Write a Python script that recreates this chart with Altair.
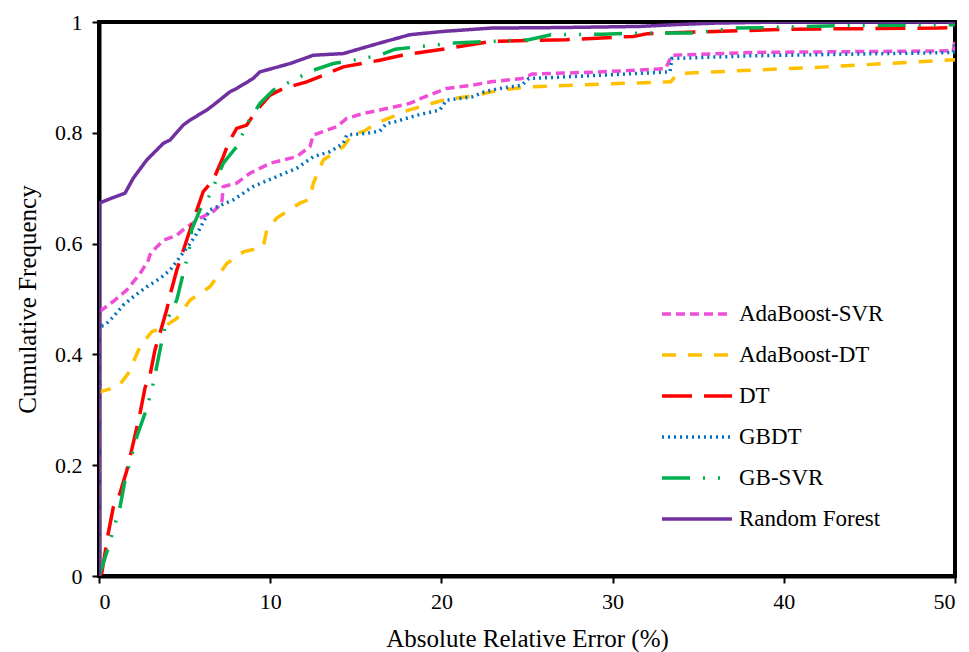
import altair as alt
import pandas as pd

# ---- data ----
series_names = ["AdaBoost-SVR", "AdaBoost-DT", "DT", "GBDT", "GB-SVR", "Random Forest"]
colors = ["#EE4FD6", "#FFC000", "#FF0000", "#0070C0", "#00B050", "#7030A0"]
dashes = [[9, 5], [14, 12], [30, 12], [2, 4], [28, 13, 2, 13, 2, 13], [1, 0]]

ada_svr_x = [0, 0, 0.16, 0.93, 1.62, 2.4, 2.88, 2.98, 3.37, 3.76, 4.54, 4.92, 5.9, 6.68, 7.17, 7.26, 8.04, 8.82, 9.99,
             11.55, 12.32, 12.52, 13.88, 14.47, 15.44, 16.4, 18.15, 18.8, 20.3, 21.8, 22.9, 24.7, 25.3, 29.4, 33.1,
             33.46, 38.1, 49.9, 50]
ada_svr_y = [0, 0.48, 0.48, 0.498, 0.516, 0.546, 0.57, 0.58, 0.594, 0.606, 0.615, 0.625, 0.646, 0.658, 0.673, 0.703,
             0.709, 0.727, 0.745, 0.757, 0.775, 0.796, 0.811, 0.826, 0.835, 0.841, 0.853, 0.862, 0.88, 0.886, 0.892,
             0.898, 0.906, 0.91, 0.916, 0.94, 0.945, 0.948, 0.97]

ada_dt_x = [0, 0, 0.45, 1.13, 1.71, 2.4, 3.08, 3.66, 4.54, 5.32, 6.48, 7.46, 8.43, 9.6, 9.8, 10.38, 11.74, 12.3, 12.52,
            13.1, 14.27, 14.85, 15.44, 16.2, 18.0, 20.1, 22.06, 23.4, 25.1, 29.4, 33.4, 33.8, 38.1, 42.5, 50]
ada_dt_y = [0, 0.332, 0.336, 0.342, 0.366, 0.414, 0.441, 0.447, 0.465, 0.498, 0.522, 0.564, 0.585, 0.594, 0.625, 0.646,
            0.673, 0.68, 0.709, 0.751, 0.775, 0.799, 0.802, 0.817, 0.84, 0.859, 0.868, 0.877, 0.883, 0.888, 0.892,
            0.907, 0.913, 0.919, 0.932]

dt_x = [0, 0.16, 0.54, 0.84, 1.23, 1.62, 2.0, 2.4, 2.69, 2.98, 3.27, 3.56, 3.95, 4.15, 4.54, 4.83, 5.32, 6.09, 6.68,
        7.26, 7.55, 8.04, 8.63, 9.21, 9.99, 10.77, 12.13, 13.1, 14.27, 16.4, 17.7, 20.3, 22.9, 27.3, 31.2, 32.05,
        35.96, 40.3, 49, 50]
dt_y = [0, 0.005, 0.077, 0.125, 0.15, 0.19, 0.24, 0.294, 0.34, 0.363, 0.408, 0.438, 0.48, 0.507, 0.552, 0.579, 0.625,
        0.694, 0.715, 0.757, 0.781, 0.808, 0.814, 0.841, 0.868, 0.88, 0.892, 0.904, 0.919, 0.931, 0.94, 0.952, 0.965,
        0.968, 0.974, 0.979, 0.983, 0.987, 0.989, 0.99]

gbdt_x = [0, 0, 0.35, 0.84, 1.42, 2.0, 2.79, 3.56, 4.15, 4.73, 5.32, 5.85, 6.48, 7.85, 9.0, 10.38, 11.55, 12.52, 13.5,
          14.27, 14.47, 15.64, 16.4, 16.8, 17.3, 18.6, 19.9, 20.3, 21.8, 22.5, 23.4, 24.7, 25.1, 29.4, 33.35, 33.46,
          38.1, 49.9, 50]
gbdt_y = [0, 0.45, 0.453, 0.468, 0.489, 0.504, 0.522, 0.537, 0.552, 0.576, 0.6, 0.625, 0.661, 0.679, 0.703, 0.721,
          0.736, 0.757, 0.766, 0.781, 0.796, 0.799, 0.803, 0.817, 0.82, 0.832, 0.841, 0.859, 0.865, 0.874, 0.88, 0.886,
          0.898, 0.904, 0.91, 0.934, 0.939, 0.945, 0.96]

gbsvr_x = [0, 0.25, 0.53, 1.23, 1.52, 2.2, 2.69, 2.98, 3.17, 3.37, 3.66, 3.86, 4.15, 4.54, 4.92, 5.12, 5.32, 5.41, 5.9,
           6.48, 7.26, 8.04, 8.72, 9.4, 10.18, 10.96, 12.52, 13.69, 14.85, 16.4, 17.3, 20.75, 22.06, 25.1, 26.4, 29.4,
           31.6, 34.9, 37.0, 39.2, 42.5, 50]
gbsvr_y = [0, 0.023, 0.05, 0.125, 0.173, 0.251, 0.294, 0.324, 0.348, 0.378, 0.423, 0.45, 0.474, 0.498, 0.546, 0.57,
           0.597, 0.625, 0.661, 0.688, 0.745, 0.775, 0.82, 0.853, 0.877, 0.889, 0.913, 0.925, 0.931, 0.94, 0.951, 0.962,
           0.964, 0.968, 0.977, 0.978, 0.98, 0.98, 0.989, 0.99, 0.993, 0.995]

rf_x = [0, 0, 0.74, 1.52, 2.0, 2.79, 3.76, 4.15, 4.92, 5.32, 6.29, 6.68, 7.65, 8.04, 9.0, 9.4, 11.16, 12.52, 14.27,
        16.4, 18.15, 20.1, 22.9, 27, 31.6, 33.5, 36, 40, 50]
rf_y = [0, 0.673, 0.682, 0.691, 0.718, 0.751, 0.781, 0.787, 0.814, 0.823, 0.841, 0.85, 0.874, 0.88, 0.898, 0.91, 0.925,
        0.94, 0.943, 0.962, 0.977, 0.983, 0.989, 0.99, 0.992, 0.995, 0.998, 1.0, 1.0]

x_ticks = [0, 10, 20, 30, 40, 50]
y_ticks = [0, 0.2, 0.4, 0.6, 0.8, 1]

# ---- table ----
all_series = [
    ("AdaBoost-SVR", ada_svr_x, ada_svr_y),
    ("AdaBoost-DT", ada_dt_x, ada_dt_y),
    ("DT", dt_x, dt_y),
    ("GBDT", gbdt_x, gbdt_y),
    ("GB-SVR", gbsvr_x, gbsvr_y),
    ("Random Forest", rf_x, rf_y),
]
rows = []
for name, xs, ys in all_series:
    assert len(xs) == len(ys), name
    for i, (a, b) in enumerate(zip(xs, ys)):
        rows.append({"series": name, "x": a, "y": b, "i": i})
df = pd.DataFrame(rows)

FONT = "Liberation Serif"

legend = alt.Legend(
    title=None, orient="none", legendX=561, legendY=280,
    symbolType="stroke", symbolSize=4900, symbolStrokeWidth=3.5,
    clipHeight=24, rowPadding=17, labelOffset=5,
    labelFont=FONT, labelFontSize=23, labelColor="black",
)

chart = alt.Chart(df).mark_line(strokeWidth=3.5, clip=True).encode(
    x=alt.X("x:Q", scale=alt.Scale(domain=[0, 50], nice=False),
            axis=alt.Axis(values=x_ticks, title="Absolute Relative Error (%)", format="d",
                          labelPadding=8, titlePadding=14)),
    y=alt.Y("y:Q", scale=alt.Scale(domain=[0, 1], nice=False),
            axis=alt.Axis(values=y_ticks, title="Cumulative Frequency", labelExpr="'' + datum.value",
                          labelPadding=10, titlePadding=14)),
    color=alt.Color("series:N", scale=alt.Scale(domain=series_names, range=colors), legend=legend),
    strokeDash=alt.StrokeDash("series:N", scale=alt.Scale(domain=series_names, range=dashes), legend=legend),
    order=alt.Order("i:Q"),
).properties(
    width=856, height=554,
    autosize=alt.AutoSizeParams(type="none"),
    padding={"left": 99, "top": 22, "right": 14, "bottom": 76},
    background="white",
).configure(
    font=FONT
).configure_view(
    stroke="black", strokeWidth=4
).configure_axis(
    grid=False, domainColor="black", domainWidth=4, tickColor="black", tickWidth=2, tickSize=7,
    labelFont=FONT, labelFontSize=22, labelColor="black",
    titleFont=FONT, titleFontSize=25, titleFontWeight="normal", titleColor="black",
)

chart.save("out.html", embed_options={"renderer": "svg", "actions": False})
